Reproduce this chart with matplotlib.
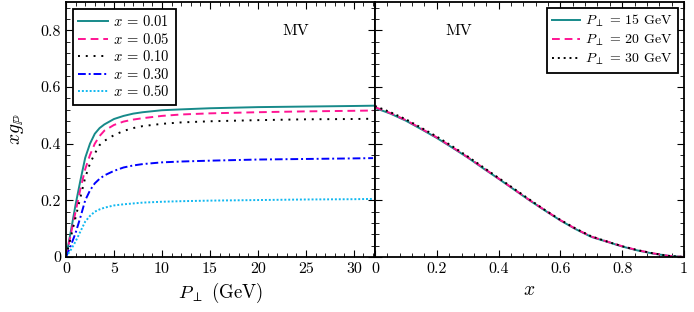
import matplotlib
matplotlib.use("Agg")
import matplotlib.pyplot as plt
from matplotlib.ticker import MultipleLocator, FuncFormatter

plt.rcParams['font.family'] = ['cmr10', 'DejaVu Serif']
plt.rcParams['mathtext.fontset'] = 'cm'
plt.rcParams['axes.formatter.use_mathtext'] = True

# ---------------- data: left panel (x g_P vs P_perp) ----------------
p_perp = [0, 0.5, 1, 1.5, 2, 2.5, 3, 3.5, 4, 5, 6, 7, 8, 10, 12, 15, 20, 25, 30, 32]
xg_x001 = [0, 0.09, 0.185, 0.27, 0.35, 0.40, 0.435, 0.455, 0.468, 0.487, 0.498, 0.506, 0.511, 0.518, 0.521, 0.525, 0.529, 0.531, 0.533, 0.534]
xg_x005 = [0, 0.08, 0.16, 0.24, 0.31, 0.36, 0.40, 0.427, 0.446, 0.466, 0.478, 0.485, 0.49, 0.498, 0.503, 0.507, 0.511, 0.514, 0.516, 0.517]
xg_x010 = [0, 0.07, 0.14, 0.21, 0.28, 0.33, 0.365, 0.395, 0.41, 0.43, 0.445, 0.455, 0.462, 0.47, 0.475, 0.479, 0.483, 0.486, 0.487, 0.488]
xg_x030 = [0, 0.04, 0.085, 0.14, 0.20, 0.235, 0.26, 0.276, 0.288, 0.304, 0.316, 0.323, 0.328, 0.334, 0.337, 0.34, 0.344, 0.346, 0.348, 0.349]
xg_x050 = [0, 0.025, 0.055, 0.09, 0.125, 0.145, 0.16, 0.168, 0.174, 0.182, 0.186, 0.189, 0.192, 0.195, 0.197, 0.199, 0.201, 0.203, 0.204, 0.205]
left_labels = [r'$x\,=\,0.01$', r'$x\,=\,0.05$', r'$x\,=\,0.10$', r'$x\,=\,0.30$', r'$x\,=\,0.50$']

# ---------------- data: right panel (x g_P vs x) ----------------
x_vals = [0, 0.05, 0.1, 0.15, 0.2, 0.25, 0.3, 0.35, 0.4, 0.45, 0.5, 0.55, 0.6, 0.65, 0.7, 0.75, 0.8, 0.85, 0.9, 0.95, 1.0]
xg_p15 = [0.526, 0.506, 0.481, 0.451, 0.420, 0.386, 0.351, 0.313, 0.276, 0.238, 0.200, 0.164, 0.129, 0.098, 0.071, 0.054, 0.037, 0.023, 0.012, 0.004, 0.0]
xg_p20 = [0.529, 0.508, 0.483, 0.453, 0.422, 0.388, 0.352, 0.315, 0.277, 0.239, 0.201, 0.165, 0.130, 0.099, 0.072, 0.055, 0.038, 0.024, 0.013, 0.004, 0.0]
xg_p30 = [0.533, 0.511, 0.486, 0.456, 0.425, 0.391, 0.355, 0.317, 0.279, 0.241, 0.203, 0.166, 0.131, 0.100, 0.073, 0.055, 0.038, 0.024, 0.013, 0.004, 0.0]
right_labels = [r'$P_{\perp}\,=\,15$ GeV', r'$P_{\perp}\,=\,20$ GeV', r'$P_{\perp}\,=\,30$ GeV']

teal = '#178a8a'
pink = '#ff1493'
blue = '#0000ff'
cyan = '#10b8f0'

fig = plt.figure(figsize=(6.94, 3.12), dpi=100)
axL = fig.add_axes([66/694, 1-257/312, 309/694, 255/312])
axR = fig.add_axes([375/694, 1-257/312, 309/694, 255/312])

lw = 1.4
axL.plot(p_perp, xg_x001, color=teal, lw=lw, ls='-', label=left_labels[0])
axL.plot(p_perp, xg_x005, color=pink, lw=lw, ls=(0, (4, 2.5)), label=left_labels[1])
axL.plot(p_perp, xg_x010, color='black', lw=lw, ls=(0, (1, 3)), label=left_labels[2])
axL.plot(p_perp, xg_x030, color=blue, lw=lw, ls=(0, (4, 1.5, 1, 1.5)), label=left_labels[3])
axL.plot(p_perp, xg_x050, color=cyan, lw=lw, ls=(0, (1, 1)), label=left_labels[4])

axR.plot(x_vals, xg_p15, color=teal, lw=lw, ls='-', label=right_labels[0])
axR.plot(x_vals, xg_p20, color=pink, lw=lw, ls=(0, (4, 2.5)), label=right_labels[1])
axR.plot(x_vals, xg_p30, color='black', lw=lw, ls=(0, (1, 2)), label=right_labels[2])

def fmt(v, pos):
    if abs(v) < 1e-9:
        return '0'
    if abs(v - round(v)) < 1e-9:
        return '%d' % round(v)
    return ('%.1f' % v)

for ax in (axL, axR):
    ax.set_ylim(0, 0.9)
    ax.yaxis.set_major_locator(MultipleLocator(0.2))
    ax.yaxis.set_minor_locator(MultipleLocator(0.04))
    ax.tick_params(which='both', direction='in', top=True, right=True, labelsize=11.5)
    ax.tick_params(which='major', length=5, width=0.8)
    ax.tick_params(which='minor', length=3, width=0.6)
    for s in ax.spines.values():
        s.set_linewidth(1.3)
    ax.xaxis.set_major_formatter(FuncFormatter(fmt))
    ax.yaxis.set_major_formatter(FuncFormatter(fmt))

axL.set_xlim(0, 32.2)
axL.xaxis.set_major_locator(MultipleLocator(5))
axL.xaxis.set_minor_locator(MultipleLocator(1))
axR.set_xlim(0, 1)
axR.xaxis.set_major_locator(MultipleLocator(0.2))
axR.xaxis.set_minor_locator(MultipleLocator(0.04))
axR.tick_params(labelleft=False)

axL.set_xlabel(r'$P_{\perp}$ (GeV)', fontsize=13.5)
axR.set_xlabel(r'$x$', fontsize=14)
axL.set_ylabel(r'$xg_{\mathbb{P}}$', fontsize=14)
axL.yaxis.set_label_coords(-0.13, 0.5)

axL.text(0.745, 0.885, 'MV', transform=axL.transAxes, fontsize=11.5, ha='center', va='center')
axR.text(0.27, 0.885, 'MV', transform=axR.transAxes, fontsize=11.5, ha='center', va='center')

legkw = dict(frameon=True, fancybox=False, edgecolor='black', framealpha=1,
             handlelength=2.0, handletextpad=0.4, borderpad=0.4)
lg = axL.legend(loc='upper left', fontsize=10.5, labelspacing=0.17,
                borderaxespad=0.45, **legkw)
lg.get_frame().set_linewidth(1.3)
lg2 = axR.legend(loc='upper right', fontsize=10, labelspacing=0.25,
                 borderaxespad=0.4, **legkw)
lg2.get_frame().set_linewidth(1.3)

fig.savefig('out.png', dpi=100)
